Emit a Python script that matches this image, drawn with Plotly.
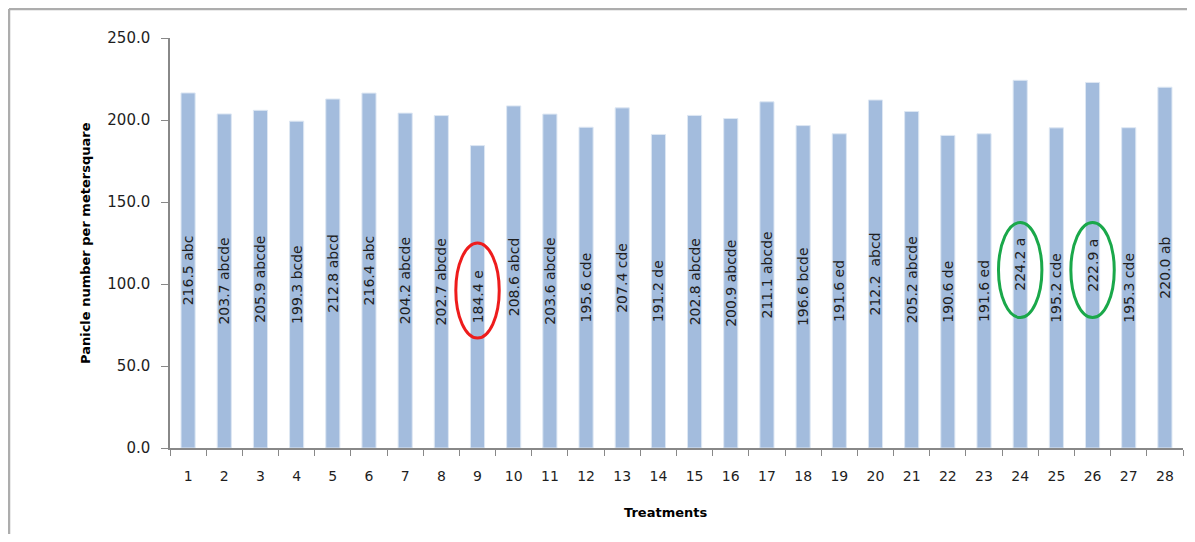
import plotly.graph_objects as go

treatments = [str(i) for i in range(1, 29)]
values = [216.5, 203.7, 205.9, 199.3, 212.8, 216.4, 204.2, 202.7, 184.4, 208.6,
          203.6, 195.6, 207.4, 191.2, 202.8, 200.9, 211.1, 196.6, 191.6, 212.2,
          205.2, 190.6, 191.6, 224.2, 195.2, 222.9, 195.3, 220.0]
letters = ["abc", "abcde", "abcde", "bcde", "abcd", "abc", "abcde", "abcde", "e", "abcd",
           "abcde", "cde", "cde", "de", "abcde", "abcde", "abcde", "bcde", "ed", " abcd",
           "abcde", "de", "ed", "a", "cde", "a", "cde", "ab"]
y_ticks = [0, 50, 100, 150, 200, 250]

labels = [f"{v:.1f} {l}" for v, l in zip(values, letters)]

# highlighted treatments: (treatment, colour, ellipse centre)
highlights = [("9", "#ee1c1c", 96), ("24", "#1aa84a", 108.5), ("26", "#1aa84a", 108.5)]

FONT = "DejaVu Sans"
TXT = "#1e1e1e"

fig = go.Figure()
fig.add_trace(go.Bar(
    x=treatments, y=values, text=labels,
    textposition="inside", insidetextanchor="middle", textangle=-90,
    textfont=dict(family=FONT, size=14, color=TXT),
    marker=dict(color="#a3bcdd", line=dict(color="#dde7f3", width=1)),
    cliponaxis=False,
))

# page body has an 8px margin; work in window pixel coordinates
OFF = 8
W, H = 1195 - 2 * OFF, 542 - 2 * OFF
PL, PR, PT, PB = 170, 1183, 38, 448  # plot area in window px
L, R, T, B = PL - OFF, W - (PR - OFF), PT - OFF, H - (PB - OFF)
pw, ph = W - L - R, H - T - B


def px_x(px):
    return (px - OFF - L) / pw


def px_y(py):
    return (H - B - (py - OFF)) / ph


shapes = []
for t, col, yc in highlights:
    i = treatments.index(t)
    shapes.append(dict(type="circle", xref="x", yref="y",
                       x0=i - 0.6, x1=i + 0.6, y0=yc - 29, y1=yc + 29,
                       line=dict(color=col, width=3)))
# chart frame (top and left edges)
shapes.append(dict(type="line", xref="paper", yref="paper",
                   x0=px_x(9), x1=px_x(1200), y0=px_y(9), y1=px_y(9),
                   line=dict(color="#adadad", width=2.5)))
shapes.append(dict(type="line", xref="paper", yref="paper",
                   x0=px_x(9), x1=px_x(9), y0=px_y(9), y1=px_y(560),
                   line=dict(color="#adadad", width=2.5)))

fig.update_layout(
    width=W, height=H,
    margin=dict(l=L, r=R, t=T, b=B, pad=0),
    plot_bgcolor="white", paper_bgcolor="white",
    bargap=0.61,
    showlegend=False,
    uniformtext=dict(minsize=14, mode="show"),
    shapes=shapes,
    annotations=[
        dict(text="<b>Panicle number per metersquare</b>", xref="paper", yref="paper",
             x=px_x(85), y=px_y(243), textangle=-90, showarrow=False,
             xanchor="center", yanchor="middle",
             font=dict(family=FONT, size=13, color="#000")),
        dict(text="<b>Treatments</b>", xref="paper", yref="paper",
             x=px_x(665), y=px_y(513), showarrow=False,
             xanchor="center", yanchor="middle",
             font=dict(family=FONT, size=13, color="#000")),
    ],
)
fig.update_xaxes(
    type="category", showline=True, linecolor="#888888", linewidth=1.5,
    ticks="outside", tickson="boundaries", ticklen=6, tickcolor="#888888",
    ticklabelstandoff=14,
    tickfont=dict(family=FONT, size=14, color=TXT), showgrid=False,
)
fig.update_yaxes(
    range=[0, 250], tickvals=y_ticks, tickformat=".1f",
    showline=True, linecolor="#888888", linewidth=1.5,
    ticks="outside", ticklen=7, tickcolor="#888888",
    ticklabelstandoff=8,
    tickfont=dict(family=FONT, size=15, color=TXT), showgrid=False, zeroline=False,
)

fig.write_html("out.html")
